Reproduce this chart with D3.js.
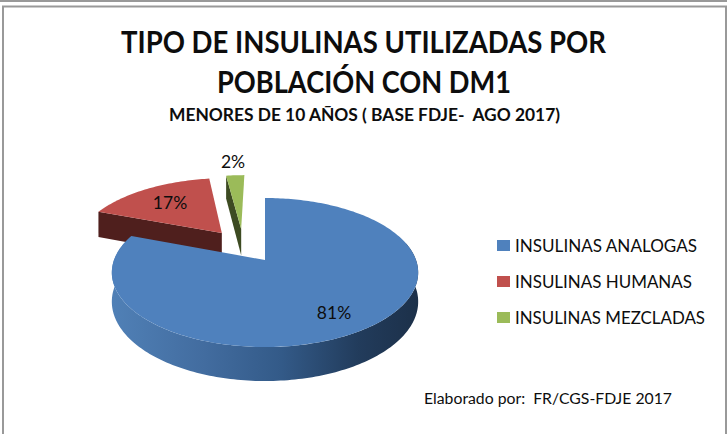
<!DOCTYPE html>
<html><head><meta charset="utf-8">
<script src="https://cdn.jsdelivr.net/npm/d3@7"></script>
<style>html,body{margin:0;padding:0;background:#fff}svg{display:block}text{font-family:Lato,"Open Sans",sans-serif;fill:#0d0d0d}</style>
</head><body><svg id="c" width="727" height="434"></svg>
<script>
const categories=["INSULINAS ANALOGAS","INSULINAS HUMANAS","INSULINAS MEZCLADAS"];
const values=[80.7,16.9,2.4];
const labels=["81%","17%","2%"];
const titleLines=["TIPO DE INSULINAS UTILIZADAS POR","POBLACIÓN CON DM1"];
const subtitle="MENORES DE 10 AÑOS ( BASE FDJE-  AGO 2017)";
const credit="Elaborado por:  FR/CGS-FDJE 2017";
const faceColors=["#4f81bd","#c0504d","#9bbb59"];
const wallColors=["#2c4a70","#4f1f1d","#3d4b22"];

const svg=d3.select("#c");
// Frame
svg.append("rect").attr("x",3).attr("y",6.5).attr("width",723).attr("height",440).attr("fill","#fff").attr("stroke","#999").attr("stroke-width",2);
svg.append("line").attr("x1",0).attr("x2",727).attr("y1",1).attr("y2",1).attr("stroke","#999").attr("stroke-width",2);

// Perspective projection of the pie disc
const X0=265,Y0=260,R=151,A=72.4,K=0.168,D=28.3;
const proj=(u,v,h=0)=>{const s=1-K*v;return [X0+R*u/s,Y0+A*v/s+h*D/s];};
const pie=d3.pie().sort(null).value(d=>d);
const arcs=pie(values);
const offsets=[[0,0],[-0.305,-0.398],[-0.17,-0.46]];
const line=d3.line();
const rim=(a,i,h=0,t0=a.startAngle,t1=a.endAngle)=>{
  const n=Math.max(2,Math.ceil((t1-t0)/0.02));
  return d3.range(n+1).map(k=>{const t=t0+(t1-t0)*k/n;
    return proj(offsets[i][0]+Math.sin(t),offsets[i][1]-Math.cos(t),h);});
};
const apex=(i,h=0)=>proj(offsets[i][0],offsets[i][1],h);

const defs=svg.append("defs");
const g=defs.append("linearGradient").attr("id","blueWall").attr("gradientUnits","userSpaceOnUse")
  .attr("x1",113).attr("x2",419).attr("y1",0).attr("y2",0);
[[0,"#5080b6"],[0.3,"#426c9f"],[0.55,"#335a88"],[0.8,"#223c5c"],[1,"#1c3049"]].forEach(s=>g.append("stop").attr("offset",s[0]).attr("stop-color",s[1]));

const root=svg.append("g");
// Red and green: cut wall then face
[1,2].forEach(i=>{
  const a=arcs[i];
  const t=a.startAngle;
  const cut=[apex(i),proj(offsets[i][0]+Math.sin(t),offsets[i][1]-Math.cos(t)),
             proj(offsets[i][0]+Math.sin(t),offsets[i][1]-Math.cos(t),1),apex(i,1)];
  root.append("path").attr("d",line(cut)+"Z").attr("fill",wallColors[i]);
  root.append("path").attr("d",line([apex(i),...rim(a,i)])+"Z").attr("fill",faceColors[i]);
});
// Blue: front wall then face
{
  const a=arcs[0];
  const top=rim(a,0,0,Math.PI*0.42,a.endAngle);
  const bot=rim(a,0,1,Math.PI*0.42,a.endAngle).reverse();
  root.append("path").attr("d",line([...top,...bot])+"Z").attr("fill","url(#blueWall)");
  root.append("path").attr("d",line([apex(0),...rim(a,0)])+"Z").attr("fill",faceColors[0]);
}
// Data labels
const labelPos=[[334,319],[170,209],[233,168]];
labels.forEach((l,i)=>svg.append("text").attr("x",labelPos[i][0]).attr("y",labelPos[i][1]).attr("text-anchor","middle").attr("font-size",17.5).text(l));

// Titles
const fit=(s,x,y,size,len,weight)=>svg.append("text").attr("x",x).attr("y",y).attr("font-size",size).attr("font-weight",weight)
  .attr("textLength",len).attr("lengthAdjust","spacingAndGlyphs").attr("xml:space","preserve").style("white-space","pre").text(s);
fit(titleLines[0],121,53,30,485,700);
fit(titleLines[1],217,93,30,294,700);
fit(subtitle,169,121,16.5,391,700);

// Legend
const legendWidths=[182,177,190];
const ly=d3.scalePoint().domain(categories).range([246,318]);
const leg=svg.append("g").selectAll("g").data(categories).join("g").attr("transform",d=>`translate(497,${ly(d)})`);
leg.append("rect").attr("y",-6).attr("width",13).attr("height",11).attr("fill",(d,i)=>faceColors[i]);
leg.append("text").attr("x",18).attr("y",6).attr("font-size",16.5).attr("textLength",(d,i)=>legendWidths[i]).attr("lengthAdjust","spacingAndGlyphs").text(d=>d);
fit(credit,424,404,15.5,248,400);
</script></body></html>
